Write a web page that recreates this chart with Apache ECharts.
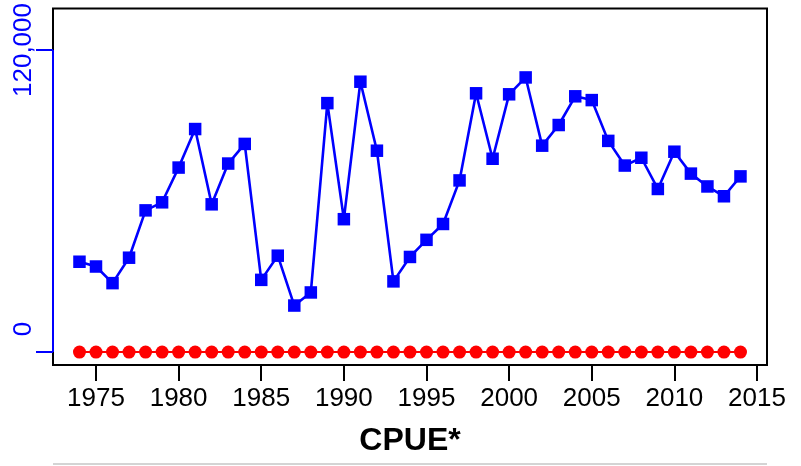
<!DOCTYPE html>
<html>
<head>
<meta charset="utf-8">
<script src="https://cdn.jsdelivr.net/npm/echarts@6/dist/echarts.min.js"></script>
<style>html,body{margin:0;padding:0;background:#fff}#c{width:801px;height:466px}</style>
</head>
<body>
<div id="c"></div>
<script>
var years = [];
for (var yr = 1974; yr <= 2014; yr++) years.push(yr);
var cpueBlue = [35900, 34000, 27400, 37500, 56300, 59500, 73300, 88600, 58700, 74900,
  82700, 28700, 38300, 18500, 23700, 98900, 52800, 107400, 80000, 28100,
  37800, 44600, 50900, 68200, 102800, 76800, 102400, 109100, 82000, 90200,
  101600, 100100, 83900, 74100, 77200, 64800, 79600, 70900, 65800, 61900, 69800];
var cpueRed = [0,0,0,0,0,0,0,0,0,0, 0,0,0,0,0,0,0,0,0,0, 0,0,0,0,0,0,0,0,0,0, 0,0,0,0,0,0,0,0,0,0, 0];
var xTicks = [1975, 1980, 1985, 1990, 1995, 2000, 2005, 2010, 2015];
var yTicks = [0, 120000];
var titleText = 'CPUE*';

var FONT = '"Liberation Sans", Arial, sans-serif';
var xMin = 1972.398, xMax = 2015.605, yMin = -5115, yMax = 136525;

var chart = echarts.init(document.getElementById('c'), null, {renderer: 'canvas'});
var option = {
  animation: false,
  backgroundColor: '#fff',
  grid: {left: 53, right: 34, top: 5, bottom: 101, show: true, borderColor: '#000', borderWidth: 2, backgroundColor: 'transparent'},
  xAxis: {
    type: 'value', min: xMin, max: xMax,
    axisLine: {show: false, onZero: false},
    splitLine: {show: false},
    axisTick: {show: true, length: 16, lineStyle: {color: '#000', width: 2}, customValues: xTicks},
    axisLabel: {customValues: xTicks, color: '#000', fontSize: 26, fontFamily: FONT, margin: 21,
      formatter: function (v) { return String(v); }}
  },
  yAxis: {
    type: 'value', min: yMin, max: yMax,
    axisLine: {show: false, onZero: false},
    splitLine: {show: false},
    axisTick: {show: true, length: 17, lineStyle: {color: '#0000ff', width: 2}, customValues: yTicks},
    axisLabel: {customValues: yTicks, color: '#0000ff', fontSize: 26, fontFamily: FONT, rotate: 90, margin: 16,
      formatter: function (v) { return v === 0 ? '{z|0}' : '{a|' + v.toLocaleString('en-US') + '}'; },
      rich: {z: {color: '#0000ff', fontSize: 26, fontFamily: FONT, padding: [0, 0, 0, 46]},
             a: {color: '#0000ff', fontSize: 26, fontFamily: FONT}}}
  },
  series: [
    {type: 'line', data: years.map(function (y, i) { return [y, cpueRed[i]]; }),
      symbol: 'circle', symbolSize: 13, itemStyle: {color: '#ff0000'},
      lineStyle: {color: '#ff0000', width: 2}, z: 3},
    {type: 'line', data: years.map(function (y, i) { return [y, cpueBlue[i]]; }),
      symbol: 'rect', symbolSize: 12.5, itemStyle: {color: '#0000ff'},
      lineStyle: {color: '#0000ff', width: 2.6}, z: 4}
  ]
};
chart.setOption(option);

var p0 = chart.convertToPixel({xAxisIndex: 0, yAxisIndex: 0}, [xMin, yTicks[0]]);
var p1 = chart.convertToPixel({xAxisIndex: 0, yAxisIndex: 0}, [xMin, yTicks[1]]);
var pr = chart.convertToPixel({xAxisIndex: 0, yAxisIndex: 0}, [xMax, yMin]);
chart.setOption({
  graphic: [
    {type: 'line', z: 100, shape: {x1: p0[0], y1: p0[1], x2: p1[0], y2: p1[1]}, style: {stroke: '#0000ff', lineWidth: 2}},
    {type: 'text', z: 100, x: (p0[0] + pr[0]) / 2, y: 441,
      style: {text: titleText, fontSize: 32, fontWeight: 'bold', fontFamily: FONT, fill: '#000', textAlign: 'center', textVerticalAlign: 'middle'}},
    {type: 'line', z: 100, shape: {x1: p0[0], y1: 464, x2: pr[0], y2: 464}, style: {stroke: '#d4d4d4', lineWidth: 2}}
  ]
});
</script>
</body>
</html>
